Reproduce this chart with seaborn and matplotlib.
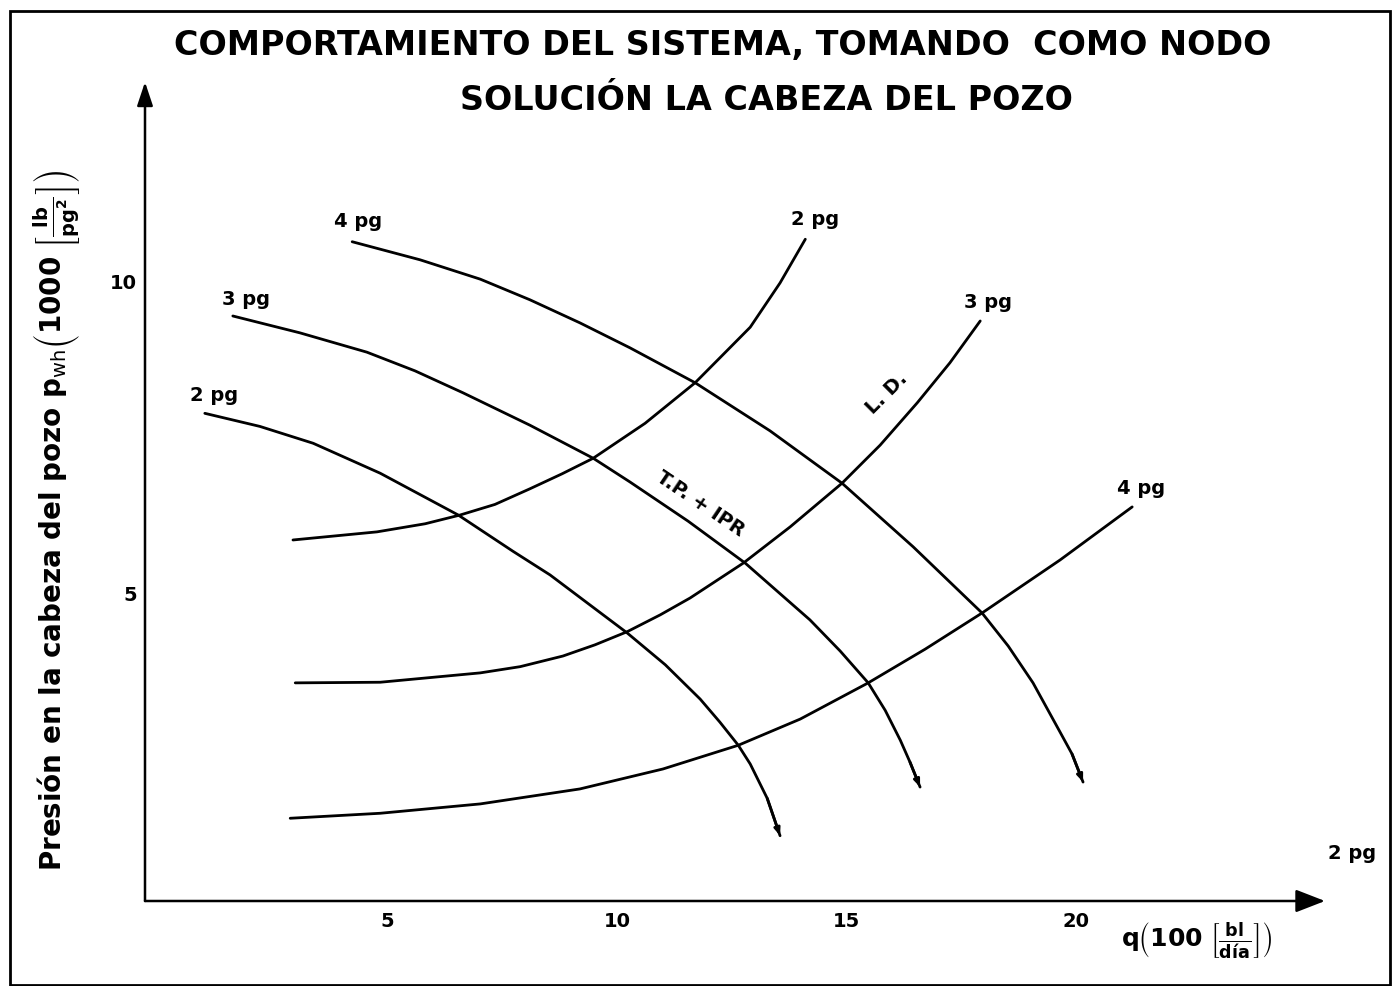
import matplotlib
matplotlib.use("Agg")
import matplotlib.pyplot as plt
import seaborn as sns
import pandas as pd
from matplotlib.patches import Rectangle

# Tubing + IPR curves (wellhead pressure vs. rate), one per tubing size
ipr_2_q = [1.02, 2.22, 3.38, 4.84, 6.54, 7.73, 8.54, 10.22, 11.05, 11.81, 12.24, 12.64, 12.90, 13.27, 13.55]
ipr_2_p = [7.88, 7.67, 7.40, 6.92, 6.25, 5.67, 5.29, 4.36, 3.85, 3.30, 2.93, 2.56, 2.26, 1.71, 1.11]

ipr_3_q = [1.63, 3.09, 4.55, 5.60, 6.64, 8.10, 9.48, 10.28, 11.55, 12.79, 14.20, 14.86, 15.47, 15.84, 16.17, 16.38, 16.60]
ipr_3_p = [9.44, 9.17, 8.86, 8.56, 8.21, 7.69, 7.16, 6.78, 6.15, 5.48, 4.57, 4.07, 3.56, 3.12, 2.64, 2.29, 1.89]

ipr_4_q = [4.23, 5.71, 7.02, 8.10, 9.19, 10.28, 11.70, 13.33, 14.90, 16.45, 17.95, 18.52, 19.06, 19.65, 19.91, 20.15]
ipr_4_p = [10.63, 10.34, 10.03, 9.70, 9.33, 8.93, 8.37, 7.60, 6.76, 5.74, 4.68, 4.15, 3.56, 2.77, 2.42, 1.97]

# Flow-line (L.D.) curves, one per line size
ld_2_q = [2.94, 4.77, 5.82, 6.58, 7.34, 8.10, 8.80, 9.48, 10.61, 11.70, 12.24, 12.90, 13.55, 14.10]
ld_2_p = [5.85, 5.98, 6.11, 6.25, 6.42, 6.67, 6.91, 7.16, 7.72, 8.37, 8.77, 9.26, 9.97, 10.67]

ld_3_q = [2.99, 4.84, 7.02, 7.89, 8.82, 9.52, 10.22, 10.94, 11.59, 12.75, 13.77, 14.90, 15.73, 16.54, 17.25, 17.91]
ld_3_p = [3.56, 3.57, 3.72, 3.82, 3.99, 4.17, 4.38, 4.65, 4.92, 5.48, 6.06, 6.76, 7.37, 8.05, 8.69, 9.36]

ld_4_q = [2.88, 4.84, 7.02, 9.19, 11.00, 12.64, 13.99, 15.47, 16.71, 17.95, 19.65, 21.22]
ld_4_p = [1.39, 1.47, 1.62, 1.86, 2.18, 2.56, 2.98, 3.56, 4.10, 4.68, 5.53, 6.38]

x_ticks = [5, 10, 15, 20]
y_ticks = [5, 10]

title_1 = "COMPORTAMIENTO DEL SISTEMA, TOMANDO  COMO NODO"
title_2 = "SOLUCIÓN LA CABEZA DEL POZO"

curves = {
    "ipr_2": (ipr_2_q, ipr_2_p), "ipr_3": (ipr_3_q, ipr_3_p), "ipr_4": (ipr_4_q, ipr_4_p),
    "ld_2": (ld_2_q, ld_2_p), "ld_3": (ld_3_q, ld_3_p), "ld_4": (ld_4_q, ld_4_p),
}
frames = []
for name, (q, p) in curves.items():
    frames.append(pd.DataFrame({"q": q, "p": p, "curva": name}))
df = pd.concat(frames, ignore_index=True)

sns.set_theme(style="white")
plt.rcParams["font.family"] = ["DejaVu Sans"]
plt.rcParams["mathtext.fontset"] = "dejavusans"
for key in ["text.color", "axes.labelcolor", "xtick.color", "ytick.color"]:
    plt.rcParams[key] = "black"

W, H = 1394, 986
fig = plt.figure(figsize=(W / 100, H / 100), dpi=100)
fig.patch.set_facecolor("white")
ax = fig.add_axes([145 / W, 85 / H, (1325 - 145) / W, (904 - 85) / H])

for name in curves:
    sub = df[df["curva"] == name]
    sns.lineplot(data=sub, x="q", y="p", sort=False, estimator=None, color="black",
                 lw=2.0, ax=ax, legend=False)
for line in ax.get_lines():
    line.set_solid_joinstyle("round")
    line.set_solid_capstyle("round")

# small pointed ends on the descending curves
for q, p in [(ipr_2_q, ipr_2_p), (ipr_3_q, ipr_3_p), (ipr_4_q, ipr_4_p)]:
    ax.annotate("", xy=(q[-1], p[-1]), xytext=(q[-2], p[-2]),
                arrowprops=dict(arrowstyle="-|>,head_length=0.35,head_width=0.14",
                                color="black", lw=2.0, shrinkA=0, shrinkB=0,
                                mutation_scale=12))

ax.set_xlim(-0.283, 25.42)
ax.set_ylim(0.064, 13.19)
for s in ax.spines.values():
    s.set_visible(False)
ax.set_facecolor("white")
ax.grid(False)

# axes drawn as arrows
ax.annotate("", xy=(1, 0), xytext=(0, 0), xycoords="axes fraction",
            arrowprops=dict(arrowstyle="-|>,head_length=0.9,head_width=0.35", color="black",
                            lw=1.8, shrinkA=0, shrinkB=0, mutation_scale=20))
ax.annotate("", xy=(0, 1), xytext=(0, 0), xycoords="axes fraction",
            arrowprops=dict(arrowstyle="-|>,head_length=0.9,head_width=0.3", color="black",
                            lw=1.8, shrinkA=0, shrinkB=0, mutation_scale=16))

ax.set_xticks(x_ticks)
ax.set_yticks(y_ticks)
ax.set_xticklabels([str(t) for t in x_ticks], fontsize=14, fontweight="bold")
ax.set_yticklabels([str(t) for t in y_ticks], fontsize=14, fontweight="bold")
ax.tick_params(axis="x", direction="in", length=13, width=1.0, pad=8, color="black")
ax.tick_params(axis="y", direction="in", length=24, width=1.0, pad=6, color="black")
ax.set_xlabel("")
ax.set_ylabel("")

lbl = dict(fontsize=14, fontweight="bold", ha="center", va="center", color="black")
ax.text(4.36, 10.95, "4 pg", **lbl)
ax.text(1.92, 9.70, "3 pg", **lbl)
ax.text(1.22, 8.16, "2 pg", **lbl)
ax.text(14.31, 10.98, "2 pg", **lbl)
ax.text(18.08, 9.66, "3 pg", **lbl)
ax.text(21.42, 6.67, "4 pg", **lbl)
ax.text(26.01, 0.83, "2 pg", **lbl)
ax.text(11.81, 6.42, "T.P. + IPR", rotation=-34, rotation_mode="anchor", **lbl)
ax.text(15.87, 8.20, "L. D.", rotation=45, rotation_mode="anchor", **lbl)

fig.text(723 / W, 1 - 45 / H, title_1, fontsize=24, fontweight="bold", ha="center", va="center")
fig.text(766 / W, 1 - 101 / H, title_2, fontsize=24, fontweight="bold", ha="center", va="center")

fig.text(57 / W, 1 - 520 / H,
         r"Presión en la cabeza del pozo p$_{\mathrm{wh}}\left(\mathbf{1000}\ \left[\frac{\mathbf{lb}}{\mathbf{pg^2}}\right]\right)$",
         rotation=90, fontsize=20, fontweight="bold", ha="center", va="center")
fig.text(1197 / W, 1 - 940 / H,
         r"$\mathbf{q}\left(\mathbf{100}\ \left[\frac{\mathbf{bl}}{\mathbf{día}}\right]\right)$",
         fontsize=18, ha="center", va="center")

# outer frame
fig.add_artist(Rectangle((10 / W, 1 / H), 1380 / W, (975 - 1) / H, transform=fig.transFigure,
                         fill=False, edgecolor="black", lw=2.0))

fig.savefig("out.png", dpi=100, facecolor="white")
